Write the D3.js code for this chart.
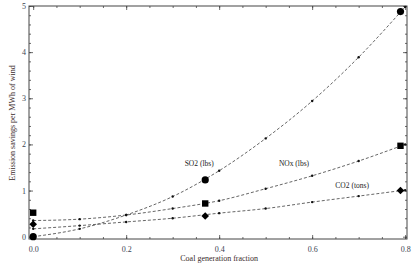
<!DOCTYPE html>
<html>
<head>
<meta charset="utf-8">
<script src="https://cdn.jsdelivr.net/npm/d3@7"></script>
<style>
  body { margin: 0; background: #fff; }
  svg { display: block; font-family: "Liberation Serif", "DejaVu Serif", serif; }
  .axis path { stroke: #444; stroke-width: 1; }
  .axis line { stroke: #444; stroke-width: 0.8; }
  .axis text { fill: #3a3f52; font-size: 8px; font-family: "Liberation Serif", serif; }
</style>
</head>
<body>
<div class="Canvas"></div>
<script>
// values
const fitX = [0, 0.1, 0.2, 0.3, 0.4, 0.5, 0.6, 0.7, 0.8];
const so2Fit = [0.0, 0.17, 0.47, 0.87, 1.43, 2.13, 2.94, 3.89, 4.98];
const noxFit = [0.35, 0.38, 0.47, 0.61, 0.78, 1.04, 1.32, 1.64, 2.0];
const co2Fit = [0.17, 0.24, 0.32, 0.40, 0.51, 0.61, 0.75, 0.88, 1.01];

const pointX = [0, 0.37, 0.79];
const so2Pts = [0.0, 1.23, 4.88];
const noxPts = [0.52, 0.72, 1.97];
const co2Pts = [0.27, 0.45, 1.0];

const xMajor = [0, 0.2, 0.4, 0.6, 0.8];
const xMinor = d3.range(0, 0.81, 0.05);
const yMajor = [0, 1, 2, 3, 4, 5];
const yMinor = d3.range(0, 5.01, 0.2);

const seriesLabels = ['SO2 (lbs)', 'NOx (lbs)', 'CO2 (tons)'];
const labelX = [0.357, 0.561, 0.686];
const labelY = [1.53, 1.53, 1.055];

const width = 418, height = 266;
const padL = 29, padR = 407, padT = 6, padB = 239;

const svg = d3.select('.Canvas').append('svg').attr('width', width).attr('height', height);

const x = d3.scaleLinear().domain([-0.009, 0.804]).range([padL, padR]);
const y = d3.scaleLinear().domain([-0.05, 5.0]).range([padB, padT]);

// frame with inward ticks on all four sides
const fmtX = d3.format('.1f');
svg.append('g').attr('class', 'axis').attr('transform', `translate(0,${padB})`)
    .call(d3.axisBottom(x).tickValues(xMajor).tickSize(-4).tickPadding(7).tickFormat(fmtX));
svg.append('g').attr('class', 'axis').attr('transform', `translate(0,${padB})`)
    .call(d3.axisBottom(x).tickValues(xMinor).tickSize(-2).tickFormat(''));
svg.append('g').attr('class', 'axis').attr('transform', `translate(0,${padT})`)
    .call(d3.axisTop(x).tickValues(xMajor).tickSize(-4).tickFormat(''));
svg.append('g').attr('class', 'axis').attr('transform', `translate(0,${padT})`)
    .call(d3.axisTop(x).tickValues(xMinor).tickSize(-2).tickFormat(''));

svg.append('g').attr('class', 'axis').attr('transform', `translate(${padL},0)`)
    .call(d3.axisLeft(y).tickValues(yMajor).tickSize(-4).tickPadding(3).tickFormat(d3.format('d')));
svg.append('g').attr('class', 'axis').attr('transform', `translate(${padL},0)`)
    .call(d3.axisLeft(y).tickValues(yMinor).tickSize(-2).tickFormat(''));
svg.append('g').attr('class', 'axis').attr('transform', `translate(${padR},0)`)
    .call(d3.axisRight(y).tickValues(yMajor).tickSize(-4).tickFormat(''));
svg.append('g').attr('class', 'axis').attr('transform', `translate(${padR},0)`)
    .call(d3.axisRight(y).tickValues(yMinor).tickSize(-2).tickFormat(''));

svg.selectAll('.axis .domain').remove();
svg.append('rect')
    .attr('x', padL).attr('y', padT)
    .attr('width', padR - padL).attr('height', padB - padT)
    .attr('fill', 'none').attr('stroke', '#444').attr('stroke-width', 1);

// dashed fitted curves with small dots
const line = d3.line().x((d) => x(d[0])).y((d) => y(d[1])).curve(d3.curveMonotoneX);
const fits = [so2Fit, noxFit, co2Fit];
fits.forEach((vals) => {
    const pts = fitX.map((v, i) => [v, vals[i]]);
    svg.append('path')
        .attr('d', line(pts))
        .attr('fill', 'none')
        .attr('stroke', '#555')
        .attr('stroke-width', 0.9)
        .attr('stroke-dasharray', '3,2');
    svg.append('g').selectAll('circle').data(pts).enter().append('circle')
        .attr('cx', (d) => x(d[0]))
        .attr('cy', (d) => y(d[1]))
        .attr('r', 1.2)
        .attr('fill', '#111');
});

// big markers
svg.append('g').selectAll('circle').data(pointX).enter().append('circle')
    .attr('cx', (d) => x(d))
    .attr('cy', (d, i) => y(so2Pts[i]))
    .attr('r', 3.6)
    .attr('fill', '#000');
svg.append('g').selectAll('rect').data(pointX).enter().append('rect')
    .attr('x', (d) => x(d) - 3.2)
    .attr('y', (d, i) => y(noxPts[i]) - 3.2)
    .attr('width', 6.4).attr('height', 6.4)
    .attr('fill', '#000');
svg.append('g').selectAll('path').data(pointX).enter().append('path')
    .attr('transform', (d, i) => `translate(${x(d)},${y(co2Pts[i])})`)
    .attr('d', 'M0,-3.8L3.8,0L0,3.8L-3.8,0Z')
    .attr('fill', '#000');

// series labels
svg.append('g').selectAll('text').data(seriesLabels).enter().append('text')
    .attr('x', (d, i) => x(labelX[i]))
    .attr('y', (d, i) => y(labelY[i]))
    .attr('text-anchor', 'middle')
    .attr('font-size', '7.5px')
    .attr('fill', '#222')
    .text((d) => d);

// axis titles
svg.append('text')
    .attr('x', x(0.4)).attr('y', 261)
    .attr('text-anchor', 'middle')
    .attr('font-size', '8px')
    .attr('fill', '#3a2a2a')
    .text('Coal generation fraction');
svg.append('text')
    .attr('transform', `translate(15,123) rotate(-90)`)
    .attr('text-anchor', 'middle')
    .attr('font-size', '8px')
    .attr('fill', '#3a2a2a')
    .text('Emission savings per MWh of wind');
</script>
</body>
</html>
